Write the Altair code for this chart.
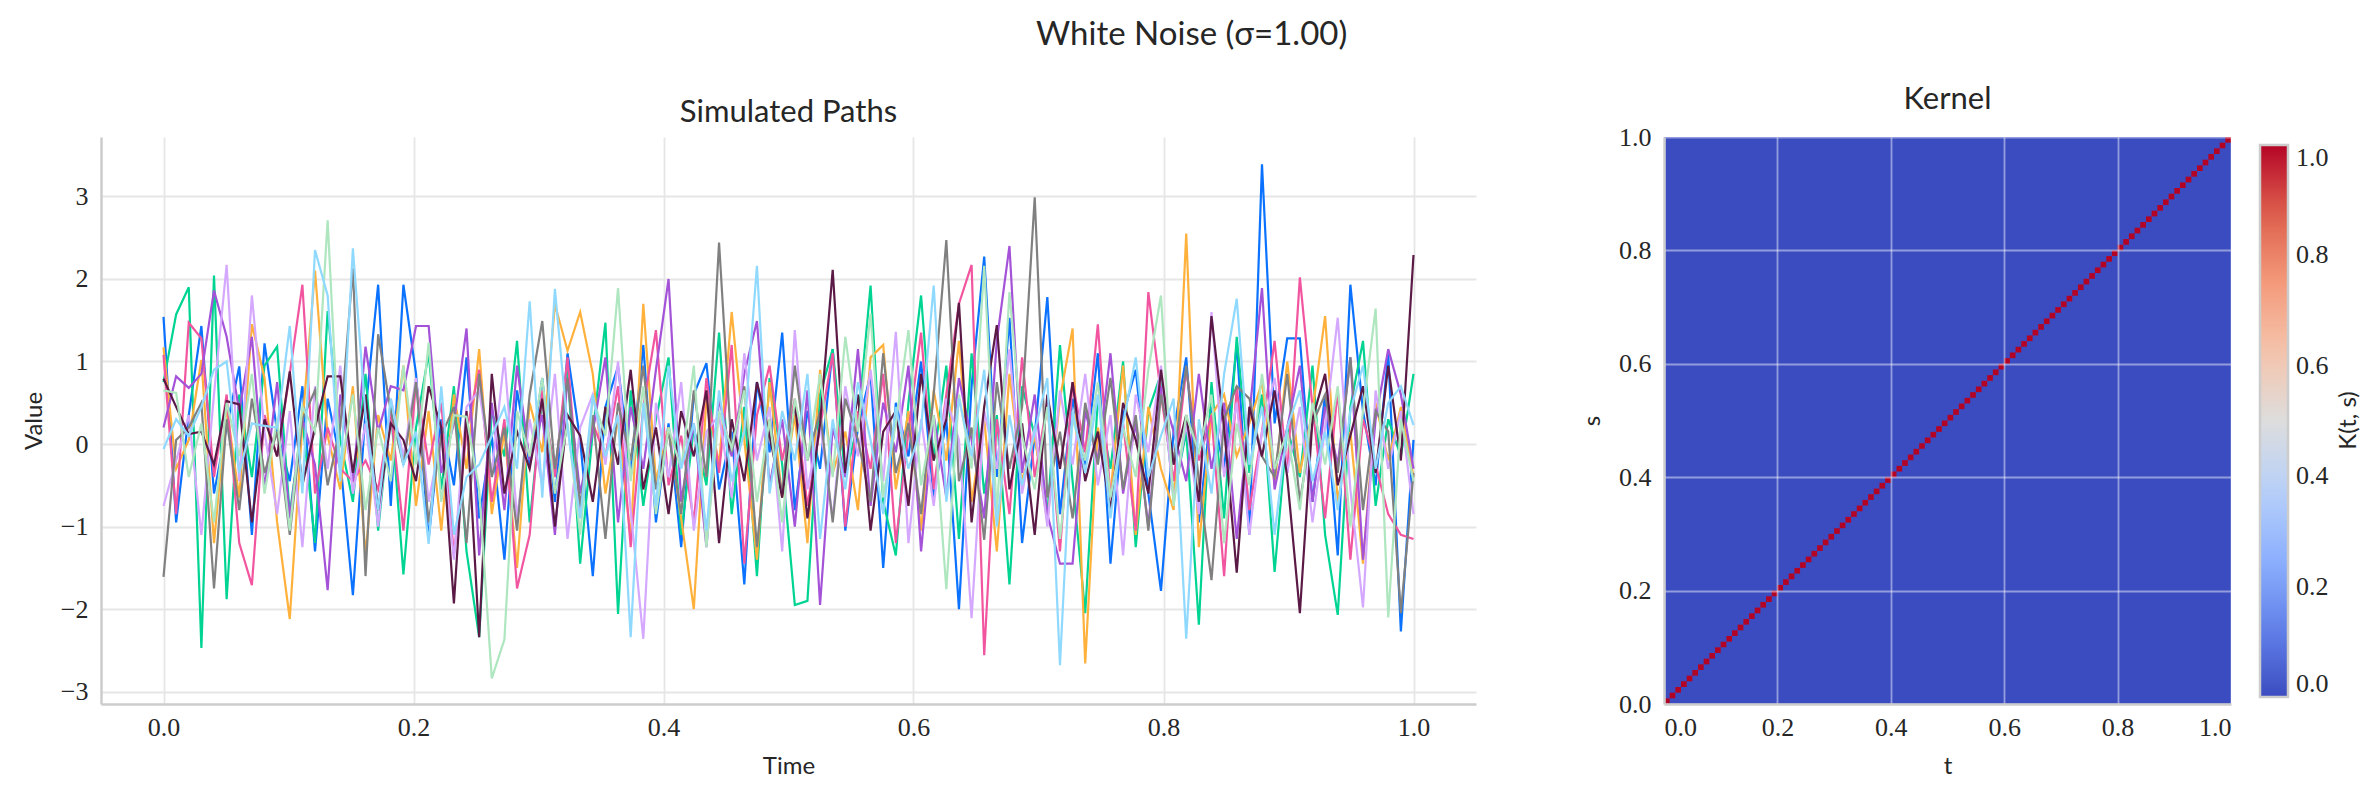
import altair as alt
import pandas as pd

# ---------------- data ----------------
N_POINTS = 100
series_names = ["Path 1", "Path 2", "Path 3", "Path 4", "Path 5",
                "Path 6", "Path 7", "Path 8", "Path 9", "Path 10"]
series_colors = ["#0a72ff", "#00d492", "#ffb13b", "#f2559f", "#a452d8",
                 "#d5a8ff", "#808080", "#5b1a45", "#aee6bf", "#8fd9ff"]

path_blue = [
    1.54, -0.95, 0.35, 1.43, -0.60, 0.20, 0.94, -1.10, 1.22, 0.15,
    -0.45, 0.70, -1.30, 0.55, -0.20, -1.83, 0.40, 1.93, -0.75, 1.93,
    0.85, -1.15, 0.30, -0.50, 1.05, -0.90, 0.10, -1.40, 0.65, -0.25,
    0.80, -0.70, 1.10, 0.05, -1.60, 0.45, 0.94, -0.35, 1.20, -0.95,
    0.25, -1.25, 0.60, 0.98, -0.55, 0.15, -1.70, 0.75, -0.10, 1.35,
    -0.80, 0.40, -0.30, 1.15, -1.05, 0.20, 0.85, -1.50, 0.50, -0.15,
    1.00, -0.65, 0.30, -2.00, 0.70, 2.27, -0.40, 1.53, -1.20, 0.10,
    1.78, -0.85, 0.55, -0.25, 1.10, -1.45, 0.35, 0.90, -0.60, -1.78,
    0.15, 1.05, -0.95, 0.45, -0.30, 1.20, -1.10, 3.39, 0.25, 1.28,
    1.28, -0.70, 0.60, -1.35, 1.93, 0.40, -0.50, 1.10, -2.27, 0.05]
path_green = [
    0.75, 1.57, 1.90, -2.47, 2.04, -1.88, 0.60, -0.40, 0.95, 1.18,
    -0.85, 0.30, -1.20, 1.61, 0.05, -0.70, 0.85, -1.05, 0.45, -1.58,
    0.20, 1.10, -0.55, 0.70, -1.30, -2.34, 0.40, -0.15, 1.25, -0.95,
    0.55, -0.35, 0.90, -1.45, 0.15, 1.47, -2.06, 0.65, -0.75, 0.30,
    1.05, -1.10, 0.20, -0.50, 1.35, -0.85, 0.45, -1.60, 0.80, -0.25,
    -1.95, -1.90, 0.60, 1.15, -0.40, 0.25, 1.92, -0.70, -1.35, 0.50,
    1.80, -0.20, 0.95, -1.15, 1.10, -0.60, 0.35, -1.70, 0.70, 0.10,
    -0.85, 1.20, -0.45, -2.05, 0.55, -0.30, 1.00, -1.25, 0.40, 0.85,
    -0.65, 0.15, -2.19, 0.75, -0.90, 1.30, -0.35, 0.60, -1.55, 0.20,
    -0.40, 0.95, -1.10, -2.07, 0.45, 1.25, -0.75, 0.30, -0.15, 0.85]
path_orange = [
    1.17, -0.30, 0.05, 1.02, -1.20, 0.45, -0.65, 1.45, 0.80, -0.95,
    -2.12, 0.25, 2.10, 0.10, -0.55, 0.70, -1.35, 0.35, -0.20, 0.95,
    -0.75, 0.40, -1.05, 0.60, -0.30, 1.15, -0.85, 0.15, -1.50, 0.50,
    -0.10, 1.69, 1.13, 1.60, 0.85, -0.60, 0.30, -1.15, 1.70, -0.45,
    0.20, -0.90, -2.00, 0.55, -0.25, 1.60, 0.05, -1.40, 0.75, -0.65,
    0.35, -1.20, 0.90, -0.35, 0.15, -0.80, 1.05, 1.20, -0.55, 0.40,
    -1.05, 0.65, -0.20, 1.25, -0.70, 0.30, -1.30, 0.85, -0.45, 0.10,
    -0.95, 0.55, 1.40, -2.66, 0.20, -0.60, 0.95, -1.10, 0.45, -0.30,
    -0.80, 2.55, -1.25, 0.35, 0.60, -0.15, 0.25, 0.75, -0.50, 1.00,
    -0.35, 0.40, 1.55, -0.70, 0.15, -1.45, 0.50, -0.20, 0.45, -0.40]
path_pink = [
    1.08, -0.85, 1.47, 1.28, -0.40, 0.60, -1.20, -1.71, 0.35, -0.15,
    0.85, 1.93, -0.60, 0.20, -0.30, -0.45, -0.20, -0.55, 0.40, -1.05,
    0.75, -0.25, 0.50, -1.35, 0.15, 0.90, -0.70, 0.30, -1.75, -1.10,
    0.65, -0.40, 1.05, -0.85, 0.25, -0.15, 0.70, -1.25, 0.45, 1.38,
    -0.50, 0.10, -0.95, 0.80, -0.35, 1.20, -1.45, 0.35, 0.95, -0.20,
    0.55, -0.75, 0.20, 1.10, -1.00, 0.40, -0.30, 0.85, -1.20, 0.15,
    1.35, -0.55, 0.60, 1.70, 2.17, -2.56, 0.30, -0.85, 1.05, -0.40,
    0.50, -1.30, 0.75, -0.10, 1.45, -0.65, 0.25, -1.05, 1.84, 0.60,
    -0.45, 0.90, -0.20, 0.35, -1.60, 0.70, -0.80, 0.15, 1.25, -0.35,
    2.02, 0.45, -0.90, 0.65, -1.40, 0.30, -0.25, -0.85, -1.10, -1.15]
path_purple = [
    0.20, 0.82, 0.68, 0.85, 1.86, 1.30, 0.40, 1.30, -0.55, 0.75,
    -0.90, 0.30, -0.25, -1.77, 0.60, -0.45, 1.18, 0.15, 0.70, 0.65,
    1.43, 1.43, -0.35, 0.25, 1.40, -1.35, 0.50, -0.80, 0.95, -0.20,
    0.35, -1.10, 0.80, -0.60, 0.15, 1.05, -0.95, 0.45, -0.30, 0.90,
    2.00, -0.70, 0.25, -1.25, 0.55, -0.15, 0.85, 1.49, -0.50, 0.30,
    -1.00, 0.65, -1.95, 0.20, -0.40, 1.15, -0.75, 0.50, -0.10, 0.95,
    -1.30, 0.35, -0.65, 0.80, 0.05, -0.90, 1.25, 2.40, -0.35, 0.60,
    -0.85, -1.45, -1.45, 0.40, -0.20, 1.10, -0.60, 0.25, -1.00, 0.70,
    0.15, -0.45, 0.85, -0.30, 0.50, -1.15, 0.35, 1.89, -0.55, 0.20,
    0.95, -0.70, 0.45, -0.25, 1.05, -1.40, 0.30, 1.15, 0.60, -0.30]
path_lavender = [
    -0.75, -0.20, 0.35, -1.10, 0.60, 2.17, -0.45, 1.80, 0.15, -0.85,
    0.40, -1.25, 0.70, -0.30, 0.95, -0.60, 0.25, -1.00, 0.55, -0.15,
    0.80, -0.70, 0.10, -1.40, 0.45, 0.65, -0.35, 1.05, -0.90, 0.30,
    -0.50, 0.85, -1.15, 0.20, 0.60, -0.25, 1.00, -0.80, -2.36, 0.50,
    -0.40, 0.75, -1.05, 0.15, 0.35, -0.65, 1.10, -0.20, 0.45, -1.30,
    1.38, -0.55, 0.25, -0.90, 0.70, -0.15, 0.90, -0.45, 1.36, -1.20,
    0.30, -0.75, 0.55, 0.05, -2.11, 0.40, -0.30, 1.15, -0.60, 0.20,
    -1.00, 0.65, -0.25, 0.85, -0.50, 0.35, -1.35, 0.60, -0.10, 0.95,
    -0.70, 0.25, -0.85, 1.60, -0.40, 0.50, -1.10, 0.15, 0.80, -0.35,
    0.45, -0.95, 0.20, 1.53, -0.55, -1.98, 0.65, -0.30, 0.40, -0.85]
path_gray = [
    -1.61, 0.05, 0.20, 0.50, -1.75, 0.30, -0.80, 0.55, -0.35, 0.15,
    -1.10, 0.30, 0.65, -0.50, 0.20, 2.13, -1.60, 1.33, 0.40, -0.25,
    0.75, -0.95, 0.10, 0.45, -1.20, 0.85, -0.40, 0.20, -1.05, 0.60,
    1.49, -0.30, 0.80, -0.75, 0.35, -1.15, 0.50, -0.20, 0.95, -0.55,
    0.15, -0.85, 0.65, -0.40, 2.44, -0.10, 0.70, -1.25, 0.30, -0.60,
    0.95, -0.20, 0.40, -0.95, 0.55, 0.05, -0.70, 1.10, -0.35, 0.25,
    -0.85, 0.60, 2.47, -0.45, 0.20, -1.16, 0.75, -0.30, 0.45, 2.99,
    -0.65, 0.15, -0.90, 0.50, -0.25, 0.80, -0.55, 0.35, -1.05, 0.60,
    -0.20, 0.95, -0.45, -1.65, 0.30, 0.70, 0.55, -0.15, -0.40, 0.85,
    -0.70, 0.25, 0.60, -0.35, 1.05, -0.80, 0.40, 0.15, -2.05, -0.35]
path_maroon = [
    0.79, 0.45, 0.12, 0.15, -0.25, 0.52, 0.48, -0.95, 0.30, -0.15,
    0.88, -0.50, 0.20, 0.82, 0.82, -0.35, 0.60, -0.80, 0.25, 0.05,
    -0.45, 0.70, 0.20, -1.93, 0.40, -2.34, 0.85, -0.60, 0.15, -0.30,
    0.55, -1.00, 0.35, 0.10, -0.70, 0.45, -0.25, 0.90, -0.55, 0.20,
    -0.85, 0.40, -0.15, 0.65, -1.20, 0.30, -0.45, 0.75, 0.10, -0.65,
    0.50, -0.90, 0.25, 2.11, -0.35, 0.60, -1.05, 0.15, 0.40, -0.75,
    0.85, -0.20, 0.30, 1.71, -0.95, 0.45, 1.44, -0.55, 0.25, -1.10,
    0.60, -0.30, 0.75, -0.45, 0.15, -0.80, 0.50, 0.05, -0.60, 0.90,
    -0.25, 0.35, -0.70, 1.55, 0.20, -1.56, 0.45, -0.15, 0.65, -0.40,
    -2.05, 0.30, 0.85, -0.50, 0.10, 0.70, -0.35, 0.95, -0.20, 2.29]
path_mint = [
    0.65, 0.62, -0.40, 0.25, -0.95, 0.50, -0.15, 0.85, -0.60, 0.30,
    -1.05, 0.45, 0.15, 2.71, -0.35, 0.60, -0.80, 0.20, -0.45, 0.95,
    -0.25, 1.23, -0.70, 0.35, 0.33, -0.55, -2.84, -2.37, 0.40, -0.15,
    0.80, -0.60, 0.25, -1.10, 0.55, 0.10, 1.89, -0.45, 0.70, -0.85,
    0.20, -0.30, 0.95, -1.25, 0.40, -0.05, 0.65, -0.70, 0.30, -0.95,
    0.55, -0.20, 0.85, -0.40, 1.30, 0.15, 1.58, -0.65, 0.25, 1.38,
    -0.50, 0.35, -1.76, 0.60, -0.30, 2.16, -0.85, 1.84, 0.10, -0.55,
    0.45, -1.15, 0.30, -0.20, 0.75, -0.65, 0.20, -0.40, 0.90, 1.80,
    -0.75, 0.35, -0.10, 0.60, -1.20, 0.25, -0.50, 0.85, -0.30, 0.15,
    -0.80, 0.50, -0.25, 0.70, -1.00, 0.40, 1.64, -2.10, 0.30, -0.45]
path_sky = [
    -0.06, 0.30, 0.10, 0.45, 0.90, 1.00, -0.35, 0.25, 0.22, 0.20,
    1.43, -0.60, 2.35, 1.80, -0.45, 2.37, 0.35, -0.80, 0.55, -0.25,
    0.15, -1.21, 0.70, -1.10, -0.40, -0.25, 0.10, 0.45, -0.30, 1.73,
    -0.65, 1.88, 0.20, -0.90, 0.60, -0.15, 0.35, -2.34, 0.50, -0.75,
    0.95, -0.30, 0.25, -1.05, 0.65, -0.45, 0.15, 2.16, -0.60, 0.40,
    -0.20, 0.85, -1.15, 0.30, -0.55, 0.75, 0.05, -0.85, 0.45, -0.30,
    0.20, 1.92, -0.70, 0.55, -0.15, 0.90, -1.00, 0.35, -0.50, 0.15,
    0.80, -2.68, 0.40, -0.35, 0.60, -0.90, 0.25, 1.05, -0.40, 0.10,
    0.55, -2.36, 0.30, -0.60, 0.85, 1.76, -0.25, 0.45, -1.10, 0.20,
    0.65, -0.45, 0.15, -0.80, 0.40, 0.95, -0.30, 0.50, 0.70, 0.23]

all_paths = [path_blue, path_green, path_orange, path_pink, path_purple,
             path_lavender, path_gray, path_maroon, path_mint, path_sky]

time_ticks = [0.0, 0.2, 0.4, 0.6, 0.8, 1.0]
value_ticks = [-3, -2, -1, 0, 1, 2, 3]
kernel_ticks = [0.0, 0.2, 0.4, 0.6, 0.8, 1.0]

# kernel of white noise: sigma^2 on the diagonal, 0 elsewhere
KERNEL_CELLS = 100
kernel_diag_value = 1.0
kernel_off_value = 0.0
coolwarm = ["#3b4cc0", "#6282ea", "#8db0fe", "#b8d0f9", "#dddddd",
            "#f5c4ac", "#f49a7b", "#de604d", "#b40426"]
colorbar_label = ["K(t, s)"]

# ---------------- tables ----------------
times = [i / (N_POINTS - 1) for i in range(N_POINTS)]

krows = [{"t": 0.0, "t2": 1.0, "s": 0.0, "s2": 1.0, "k": kernel_off_value}]
for i in range(KERNEL_CELLS):
    a = i / KERNEL_CELLS
    b = (i + 1) / KERNEL_CELLS
    krows.append({"t": a, "t2": b, "s": a, "s2": b, "k": kernel_diag_value})
kernel_df = pd.DataFrame(krows)

SERIF = "Liberation Serif, Times New Roman, serif"
SANS = "Lato"
TXT = "#262626"
PW = 1375
KW = 567
KH = 567
SPACING = 103
# kernel panel starts this far right of the concat origin (left panel's plot origin)
KERNEL_ORIGIN_X = 1565

x_time = alt.X("time:Q",
               scale=alt.Scale(domain=[-0.05, 1.05], nice=False, zero=False),
               axis=alt.Axis(values=time_ticks, format=".1f", title="Time",
                             labelFont=SERIF))
y_value = alt.Y("value:Q",
                scale=alt.Scale(domain=[-3.15, 3.72], nice=False, zero=False),
                axis=alt.Axis(values=value_ticks, format="d", title="Value",
                              labelFont=SERIF))

line_layers = []
for name, vals, col in zip(series_names, all_paths, series_colors):
    df = pd.DataFrame({"time": times, "value": vals, "path": name})
    line_layers.append(
        alt.Chart(df).mark_line(strokeWidth=2.2, color=col).encode(x=x_time, y=y_value)
    )

paths_chart = alt.layer(*line_layers).properties(
    width=PW, height=567, title=alt.TitleParams("Simulated Paths", offset=8))

kernel_rect = alt.Chart(kernel_df).mark_rect(strokeWidth=0).encode(
    x=alt.X("t:Q", scale=alt.Scale(domain=[0, 1], nice=False),
            axis=alt.Axis(values=kernel_ticks, format=".1f", title="t", labelFont=SERIF,
                          zindex=1, gridColor="#ffffff", gridOpacity=0.45)),
    x2="t2:Q",
    y=alt.Y("s:Q", scale=alt.Scale(domain=[0, 1], nice=False),
            axis=alt.Axis(values=kernel_ticks, format=".1f", title="s", labelFont=SERIF,
                          zindex=1, gridColor="#ffffff", gridOpacity=0.45)),
    y2="s2:Q",
    color=alt.Color("k:Q",
                    scale=alt.Scale(domain=[0, 1], range=coolwarm, interpolate="rgb"),
                    legend=alt.Legend(title="", values=kernel_ticks, format=".1f",
                                      orient="none", legendX=KERNEL_ORIGIN_X + KW + 27,
                                      legendY=8,
                                      gradientLength=552, gradientThickness=28,
                                      gradientStrokeColor="#cccccc", gradientStrokeWidth=2.5,
                                      labelBaseline="middle", labelFont=SERIF, labelFontSize=26,
                                      labelColor=TXT, labelOffset=8)),
)

kernel_label = alt.Chart(pd.DataFrame({"label": colorbar_label})).mark_text(
    angle=270, align="center", baseline="middle", font=SANS, fontSize=24, color=TXT
).encode(text="label:N", x=alt.value(KW + 118), y=alt.value(KH / 2))

kernel_chart = alt.layer(kernel_rect, kernel_label).properties(
    width=KW, height=KH, title=alt.TitleParams("Kernel", offset=8))

chart = alt.hconcat(paths_chart, kernel_chart, spacing=SPACING).properties(
    title=alt.TitleParams("White Noise (σ=1.00)", fontSize=33, font=SANS,
                          fontWeight="normal", color=TXT, anchor="middle", offset=32),
    padding={"left": 13, "top": 10, "right": 5, "bottom": 5},
).configure_view(stroke="transparent").configure_axis(
    labelFont=SERIF, labelFontSize=26, labelColor=TXT,
    titleFont=SANS, titleFontSize=24, titleFontWeight="normal", titleColor=TXT,
    ticks=False, labelPadding=10,
    domainColor="#cccccc", domainWidth=2.5,
    gridColor="#e6e6e6", gridWidth=1.8,
).configure_axisX(titlePadding=14).configure_axisY(titlePadding=14, labelPadding=13).configure_title(
    font=SANS, fontSize=31, fontWeight="normal", color=TXT
)

chart.save("out.html", embed_options={"renderer": "svg", "actions": False})
